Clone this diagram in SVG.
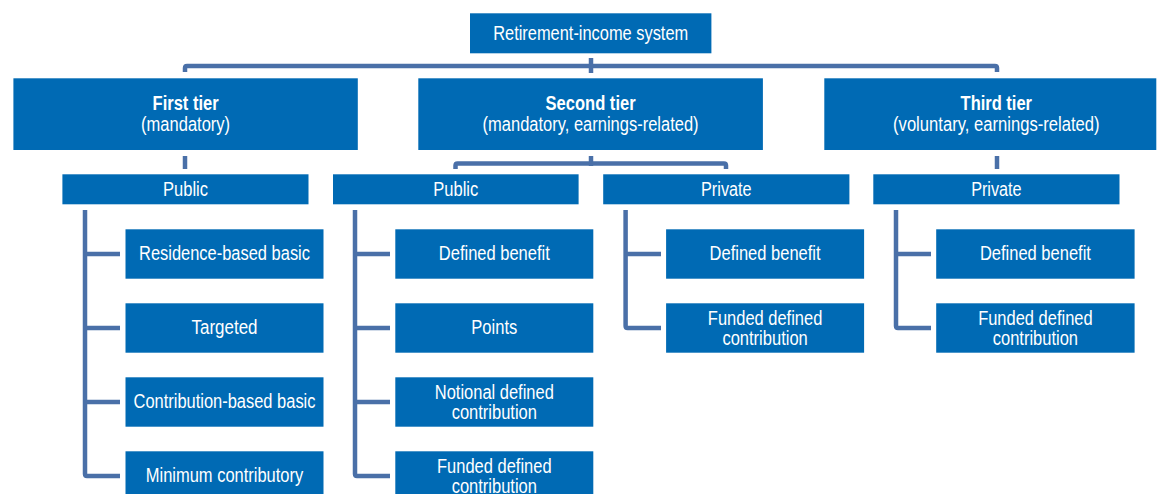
<svg xmlns="http://www.w3.org/2000/svg" width="1157" height="494" viewBox="0 0 1157 494">
<style>
.box{fill:#006AB4}
.t{font-family:"Liberation Sans",Arial,sans-serif;font-size:20px;fill:#ffffff;text-anchor:middle}
.b{font-weight:bold}
.c{fill:none;stroke:#4A70A8;stroke-width:4.5;stroke-linejoin:round;stroke-linecap:butt}
</style>
<rect width="1157" height="494" fill="#ffffff"/>
<g id="connectors">
<path class="c" d="M185,72 V68 Q185,66 187,66 H995 Q997,66 997,68 V72"/>
<path class="c" d="M591,58 V73"/>
<path class="c" d="M185,156 V169"/>
<path class="c" d="M591,156 V166"/>
<path class="c" d="M455.5,169 V165.5 Q455.5,163.5 457.5,163.5 H724 Q726,163.5 726,165.5 V169"/>
<path class="c" d="M997,156 V169"/>
<path class="c" d="M85,210 V474 Q85,476 87,476 H120 M85,254 H120 M85,328 H120 M85,402 H120"/>
<path class="c" d="M355,210 V474 Q355,476 357,476 H390 M355,254 H390 M355,328 H390 M355,402 H390"/>
<path class="c" d="M625.6,210 V326 Q625.6,328 627.6,328 H661 M625.6,254 H661"/>
<path class="c" d="M896,210 V326 Q896,328 898,328 H931 M896,254 H931"/>
</g>
<g id="root"><rect class="box" x="470" y="13.3" width="241.4" height="40"/><text class="t" x="590.7" y="40" textLength="195" lengthAdjust="spacingAndGlyphs">Retirement-income system</text></g>
<g id="tier1"><rect class="box" x="13.4" y="78.3" width="344.4" height="71.7"/><text class="t b" x="185.6" y="110" textLength="66" lengthAdjust="spacingAndGlyphs">First tier</text><text class="t" x="185.6" y="130.5" textLength="89" lengthAdjust="spacingAndGlyphs">(mandatory)</text></g>
<g id="tier2"><rect class="box" x="418.3" y="78.3" width="344.6" height="71.7"/><text class="t b" x="590.6" y="110" textLength="90" lengthAdjust="spacingAndGlyphs">Second tier</text><text class="t" x="590.6" y="130.5" textLength="216" lengthAdjust="spacingAndGlyphs">(mandatory, earnings-related)</text></g>
<g id="tier3"><rect class="box" x="824.3" y="78.3" width="332" height="71.7"/><text class="t b" x="996.3" y="110" textLength="71.5" lengthAdjust="spacingAndGlyphs">Third tier</text><text class="t" x="996.3" y="130.5" textLength="206.5" lengthAdjust="spacingAndGlyphs">(voluntary, earnings-related)</text></g>
<g id="public1"><rect class="box" x="62.4" y="174.3" width="246.1" height="30"/><text class="t" x="185.5" y="196" textLength="45" lengthAdjust="spacingAndGlyphs">Public</text></g>
<g id="public2"><rect class="box" x="333" y="174.3" width="245.6" height="30"/><text class="t" x="455.8" y="196" textLength="45" lengthAdjust="spacingAndGlyphs">Public</text></g>
<g id="private1"><rect class="box" x="603.2" y="174.3" width="246.2" height="30"/><text class="t" x="726.3" y="196" textLength="50.5" lengthAdjust="spacingAndGlyphs">Private</text></g>
<g id="private2"><rect class="box" x="873.3" y="174.3" width="246.2" height="30"/><text class="t" x="996.4" y="196" textLength="50.5" lengthAdjust="spacingAndGlyphs">Private</text></g>
<g id="residence"><rect class="box" x="125.5" y="229.3" width="198" height="49.4"/><text class="t" x="224.5" y="260" textLength="171" lengthAdjust="spacingAndGlyphs">Residence-based basic</text></g>
<g id="targeted"><rect class="box" x="125.5" y="303.3" width="198" height="49.4"/><text class="t" x="224.5" y="334" textLength="66" lengthAdjust="spacingAndGlyphs">Targeted</text></g>
<g id="contribbasic"><rect class="box" x="125.5" y="377.3" width="198" height="49.4"/><text class="t" x="224.5" y="408" textLength="182" lengthAdjust="spacingAndGlyphs">Contribution-based basic</text></g>
<g id="mincontrib"><rect class="box" x="125.5" y="451.3" width="198" height="49.4"/><text class="t" x="224.5" y="482" textLength="157.5" lengthAdjust="spacingAndGlyphs">Minimum contributory</text></g>
<g id="pub-db"><rect class="box" x="395.3" y="229.3" width="198" height="49.4"/><text class="t" x="494.3" y="260" textLength="111" lengthAdjust="spacingAndGlyphs">Defined benefit</text></g>
<g id="pub-points"><rect class="box" x="395.3" y="303.3" width="198" height="49.4"/><text class="t" x="494.3" y="334" textLength="46" lengthAdjust="spacingAndGlyphs">Points</text></g>
<g id="pub-ndc"><rect class="box" x="395.3" y="377.3" width="198" height="49.4"/><text class="t" x="494.3" y="398.5" textLength="119" lengthAdjust="spacingAndGlyphs">Notional defined</text><text class="t" x="494.3" y="419" textLength="85.3" lengthAdjust="spacingAndGlyphs">contribution</text></g>
<g id="pub-fdc"><rect class="box" x="395.3" y="451.3" width="198" height="49.4"/><text class="t" x="494.3" y="472.5" textLength="114.5" lengthAdjust="spacingAndGlyphs">Funded defined</text><text class="t" x="494.3" y="493" textLength="85.3" lengthAdjust="spacingAndGlyphs">contribution</text></g>
<g id="priv2-db"><rect class="box" x="666.1" y="229.3" width="198" height="49.4"/><text class="t" x="765.1" y="260" textLength="111" lengthAdjust="spacingAndGlyphs">Defined benefit</text></g>
<g id="priv2-fdc"><rect class="box" x="666.1" y="303.3" width="198" height="49.4"/><text class="t" x="765.1" y="324.5" textLength="114.5" lengthAdjust="spacingAndGlyphs">Funded defined</text><text class="t" x="765.1" y="345" textLength="85.3" lengthAdjust="spacingAndGlyphs">contribution</text></g>
<g id="priv3-db"><rect class="box" x="936.2" y="229.3" width="198.4" height="49.4"/><text class="t" x="1035.4" y="260" textLength="111" lengthAdjust="spacingAndGlyphs">Defined benefit</text></g>
<g id="priv3-fdc"><rect class="box" x="936.2" y="303.3" width="198.4" height="49.4"/><text class="t" x="1035.4" y="324.5" textLength="114.5" lengthAdjust="spacingAndGlyphs">Funded defined</text><text class="t" x="1035.4" y="345" textLength="85.3" lengthAdjust="spacingAndGlyphs">contribution</text></g>
</svg>
